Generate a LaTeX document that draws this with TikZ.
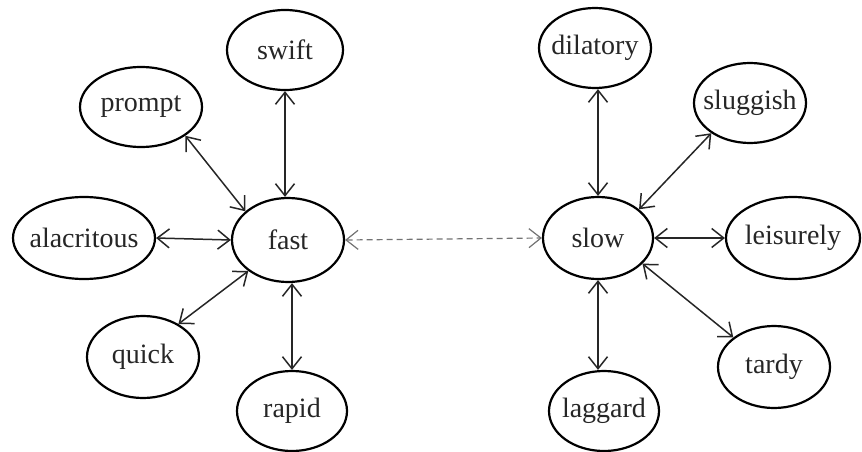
\documentclass[tikz,border=0pt]{standalone}
\usepackage{fontspec}
\setmainfont{Liberation Serif}
\usetikzlibrary{shapes.geometric,arrows.meta}

% zero-width label box, so the ellipse keeps the size set below
\newcommand{\wordlbl}[1]{\makebox[0pt]{#1}}

\tikzset{
  word/.style={ellipse, draw=black, line width=2.2pt, inner sep=0pt,
    text=black!85, font=\fontsize{28}{32}\selectfont},
  rel/.style={<->, >={Straight Barb[length=12pt,width=19pt]},
    line width=1.5pt, draw=black!85},
  antirel/.style={<->, >={Straight Barb[length=12pt,width=19pt]},
    line width=1.2pt, draw=black!55, dash pattern=on 6pt off 4pt}
}

\begin{document}
\begin{tikzpicture}[x=1pt, y=-1pt]
\useasboundingbox (0,0) rectangle (862,452);

% "fast" cluster
\node[word, minimum width=112pt, minimum height=84pt] (fast)   at (288,240) {\wordlbl{fast}};
\node[word, minimum width=116pt, minimum height=80pt] (swift)  at (285,50)  {\wordlbl{swift}};
\node[word, minimum width=122pt, minimum height=80pt] (prompt) at (141,107) {\wordlbl{prompt}};
\node[word, minimum width=142pt, minimum height=82pt] (alac)   at (84,238)  {\wordlbl{alacritous}};
\node[word, minimum width=112pt, minimum height=82pt] (quick)  at (143,357) {\wordlbl{quick}};
\node[word, minimum width=110pt, minimum height=80pt] (rapid)  at (292,411) {\wordlbl{rapid}};

% "slow" cluster
\node[word, minimum width=110pt, minimum height=82pt] (slow)      at (598,238) {\wordlbl{slow}};
\node[word, minimum width=112pt, minimum height=80pt] (dilatory)  at (595,48)  {\wordlbl{dilatory}};
\node[word, minimum width=112pt, minimum height=80pt] (sluggish)  at (750,103) {\wordlbl{sluggish}};
\node[word, minimum width=134pt, minimum height=82pt] (leisurely) at (793,238) {\wordlbl{leisurely}};
\node[word, minimum width=112pt, minimum height=82pt] (tardy)     at (774,367) {\wordlbl{tardy}};
\node[word, minimum width=110pt, minimum height=80pt] (laggard)   at (604,411) {\wordlbl{laggard}};

% synonyms of "fast"
\draw[rel] (swift.south) -- (swift.south |- fast.north);
\draw[rel] (prompt.-33) -- (fast.146);
\draw[rel] (alac.east) -- (fast.west);
\draw[rel] (quick.43) -- (fast.-142);
\draw[rel] (rapid.north |- fast.south) -- (rapid.north);

% synonyms of "slow"
\draw[rel] (dilatory.south -| slow.north) -- (slow.north);
\draw[rel] (sluggish.-142) -- (slow.35);
\draw[rel] (slow.east) -- (leisurely.west);
\draw[rel] (slow.-30) -- (tardy.144);
\draw[rel] (slow.south) -- (slow.south |- laggard.north);

% antonym link
\draw[antirel] (fast.east) -- (slow.west);
\end{tikzpicture}
\end{document}
